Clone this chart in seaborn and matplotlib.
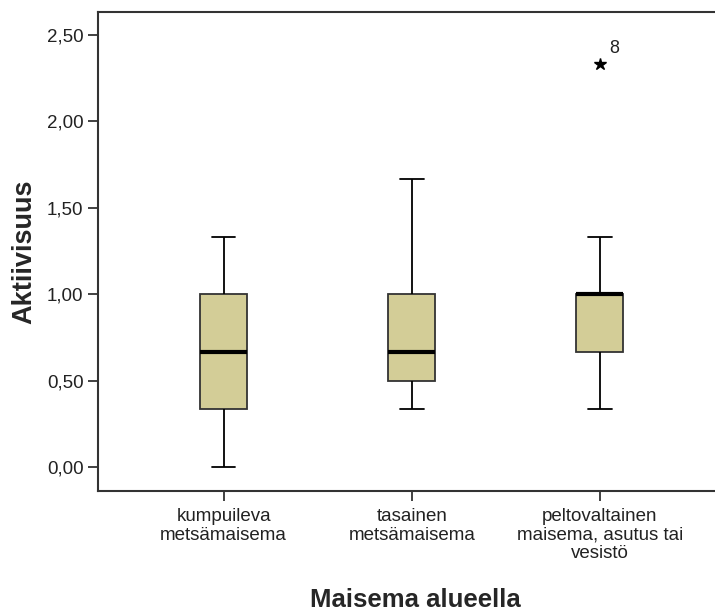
import numpy as np
import pandas as pd
import matplotlib
matplotlib.use("Agg")
import matplotlib.pyplot as plt
import seaborn as sns

# Category labels
categories = ["kumpuileva\nmetsämaisema",
              "tasainen\nmetsämaisema",
              "peltovaltainen\nmaisema, asutus tai\nvesistö"]

# Observations per group (chosen to reproduce the box statistics shown)
group1 = [0.0, 1/3, 1/3, 1/3, 2/3, 2/3, 2/3, 1.0, 1.0, 1.0, 4/3]
group2 = [1/3, 0.5, 0.5, 0.5, 2/3, 5/6, 1.0, 1.0, 5/3]
group3 = [1/3, 2/3, 2/3, 1.0, 1.0, 1.0, 1.0, 4/3, 7/3]
outlier_case = "8"

yticks = [0.0, 0.5, 1.0, 1.5, 2.0, 2.5]
ytick_labels = ["0,00", "0,50", "1,00", "1,50", "2,00", "2,50"]

rows = []
for cat, vals in zip(categories, [group1, group2, group3]):
    for v in vals:
        rows.append({"Maisema": cat, "Aktiivisuus": v})
df = pd.DataFrame(rows)

sns.set_style("white")
plt.rcParams["font.family"] = ["Liberation Sans", "DejaVu Sans"]

W, H = 715, 613
fig = plt.figure(figsize=(W/100, H/100), dpi=100)
ax_l, ax_r, ax_t, ax_b = 98, 725.5, 12, 491
ax = fig.add_axes([ax_l/W, 1-ax_b/H, (ax_r-ax_l)/W, (ax_b-ax_t)/H])

sns.boxplot(data=df, x="Maisema", y="Aktiivisuus", order=categories,
            width=0.25, color="#D3CD97", linecolor="black", linewidth=1.3,
            saturation=1, whis=1.5, ax=ax,
            boxprops=dict(edgecolor="#333333"),
            medianprops=dict(color="black", linewidth=3),
            flierprops=dict(marker="*", markersize=9, markerfacecolor="black",
                            markeredgecolor="black"))

# Outlier label
out_val = max(group3)
ax.annotate(outlier_case, xy=(2, out_val), xytext=(7, 5), textcoords="offset points",
            fontsize=13, color="#222222", va="bottom", ha="left")

ax.set_xlim(-0.668, 2.668)
ax.set_ylim(-0.139, 2.633)
ax.set_yticks(yticks)
ax.set_yticklabels(ytick_labels, fontsize=13.5, color="#222222")
ax.set_xticks(range(len(categories)))
ax.set_xticklabels(categories, fontsize=13.5, color="#222222", linespacing=1.12)

ax.tick_params(axis="both", direction="out", length=7.5, width=1.3, color="#333333",
               bottom=True, left=True)
ax.tick_params(axis="y", pad=3)
ax.tick_params(axis="x", pad=5)

for s in ax.spines.values():
    s.set_visible(True)
    s.set_color("#333333")
    s.set_linewidth(1.5)

ax.set_ylabel("Aktiivisuus", fontsize=19.5, fontweight="bold")
ax.set_xlabel("Maisema alueella", fontsize=18.5, fontweight="bold")
ax.yaxis.label.set_va("center")
ax.xaxis.label.set_va("center")
ax.yaxis.set_label_coords((24-ax_l)/(ax_r-ax_l), 0.5)
ax.xaxis.set_label_coords((415-ax_l)/(ax_r-ax_l), (ax_b-600)/(ax_b-ax_t))

fig.savefig("out.png", dpi=100)
